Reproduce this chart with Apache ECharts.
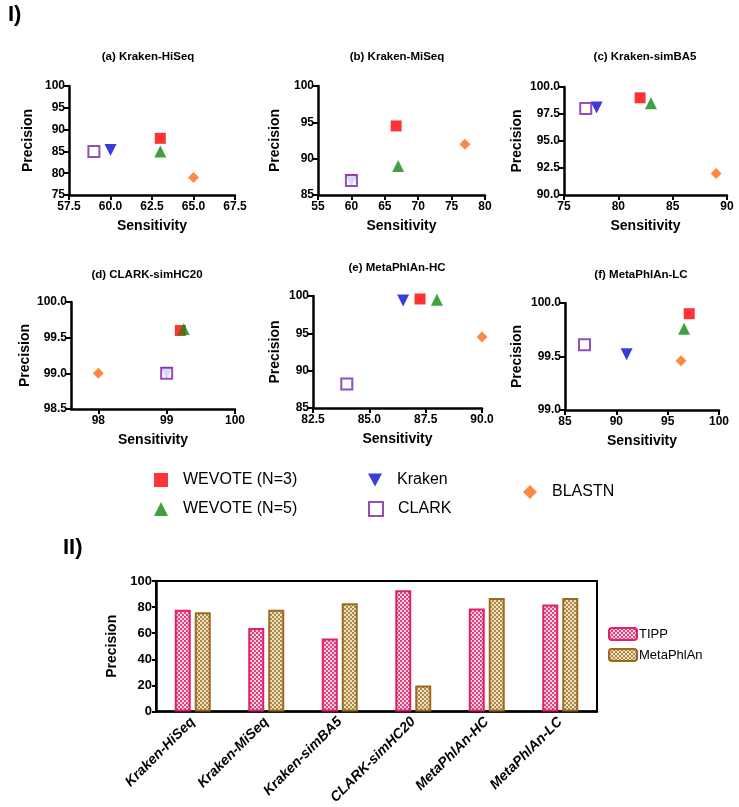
<!DOCTYPE html>
<html>
<head>
<meta charset="UTF-8" />
<title>WEVOTE precision / sensitivity</title>
<script src="https://cdn.jsdelivr.net/npm/echarts@6/dist/echarts.min.js"></script>
<style>
  body { margin: 0; background: #fff; }
  #chart { width: 739px; height: 807px; }
</style>
</head>
<body>
<div id="chart"></div>
<script>
// ---- data ----
var panelTitles = ['(a) Kraken-HiSeq', '(b) Kraken-MiSeq', '(c) Kraken-simBA5',
                   '(d) CLARK-simHC20', '(e) MetaPhlAn-HC', '(f) MetaPhlAn-LC'];
var toolNames = ['WEVOTE (N=3)', 'WEVOTE (N=5)', 'Kraken', 'CLARK', 'BLASTN'];

// one value per panel (a..f)
var wevote3Sens = [63, 66.7, 82, 99.2, 87.25, 97.1];
var wevote3Prec = [88, 94.5, 99, 99.6, 99.6, 99.9];
var wevote5Sens = [63, 67, 83, 99.25, 88, 96.6];
var wevote5Prec = [85, 89, 98.5, 99.62, 99.5, 99.76];
var krakenSens = [60, 60, 78, 99, 86.5, 91];
var krakenPrec = [85.3, 87, 98.1, 99, 99.4, 99.52];
var clarkSens = [59, 60, 77, 99, 84, 86.9];
var clarkPrec = [85, 87, 98, 99, 88.2, 99.61];
var blastnSens = [65, 77, 89, 98, 90, 96.3];
var blastnPrec = [79, 92, 92, 99, 94.5, 99.46];

// axis scales per panel
var xMin = [57.5, 55, 75, 97.6, 82.5, 85];
var xMax = [67.5, 80, 90, 100, 90, 100];
var xStep = [2.5, 5, 5, 1, 2.5, 5];
var yMin = [75, 85, 90, 98.5, 85, 99];
var yMax = [100, 100, 100, 100, 100, 100];
var yStep = [5, 5, 2.5, 0.5, 5, 0.5];
var xDecimals = [1, 0, 0, 0, 1, 0];
var yDecimals = [0, 0, 1, 1, 0, 1];
var dTicks = [98, 99, 100];

// part II bars
var barCategories = ['Kraken-HiSeq', 'Kraken-MiSeq', 'Kraken-simBA5', 'CLARK-simHC20', 'MetaPhlAn-HC', 'MetaPhlAn-LC'];
var tippValues = [78, 64, 56, 93, 79, 82];
var metaphlanValues = [76, 78, 83, 20, 87, 87];
var barTicks = [0, 20, 40, 60, 80, 100];

// ---- layout ----
var grids = [
  { left: 69, top: 86, width: 166, height: 109 },
  { left: 318, top: 86, width: 167, height: 109 },
  { left: 564, top: 87, width: 163, height: 108 },
  { left: 71, top: 302, width: 164, height: 107 },
  { left: 313, top: 296, width: 169, height: 112 },
  { left: 565, top: 303, width: 154, height: 107 }
];
var titleX = [148, 397, 645, 147, 397, 641];
var titleY = [51, 51, 51, 269, 262, 269];
var yNameGap = [34, 36, 40, 39, 31, 41];

var FONT = 'Liberation Sans, Arial, sans-serif';
var sym = {
  'WEVOTE (N=3)': { symbol: 'rect', size: 11, style: { color: '#ff0000' } },
  'WEVOTE (N=5)': { symbol: 'triangle', size: 12, style: { color: '#128a12' } },
  'Kraken': { symbol: 'triangle', size: 12, rotate: 180, style: { color: '#0a0ad0' } },
  'CLARK': { symbol: 'rect', size: 11, style: { color: '#ffffff', borderColor: '#7b22a8', borderWidth: 2 } },
  'BLASTN': { symbol: 'diamond', size: 11, style: { color: '#ff6a14' } }
};
var toolSens = [wevote3Sens, wevote5Sens, krakenSens, clarkSens, blastnSens];
var toolPrec = [wevote3Prec, wevote5Prec, krakenPrec, clarkPrec, blastnPrec];

function pattern(bg, dot) {
  var c = document.createElement('canvas');
  c.width = 4; c.height = 4;
  var g = c.getContext('2d');
  g.fillStyle = bg; g.fillRect(0, 0, 4, 4);
  g.fillStyle = dot;
  g.fillRect(0, 0, 2, 2); g.fillRect(2, 2, 2, 2);
  return { image: c, repeat: 'repeat' };
}

var axisLine = { lineStyle: { color: '#000', width: 2.5 } };
var axisTick = { inside: false, length: 5, lineStyle: { color: '#000', width: 2 } };
var labelStyle = { color: '#000', fontWeight: 'bold', fontSize: 12, fontFamily: FONT };
var nameStyle = { color: '#000', fontWeight: 'bold', fontSize: 14, fontFamily: FONT };

var option = {
  animation: false,
  backgroundColor: '#fff',
  title: [],
  grid: [],
  xAxis: [],
  yAxis: [],
  legend: [],
  series: []
};

option.title.push({ text: 'I)', left: 8, top: 4, padding: 0, textStyle: { fontSize: 22, fontWeight: 'bold', fontFamily: FONT, color: '#000' } });
option.title.push({ text: 'II)', left: 63, top: 537, padding: 0, textStyle: { fontSize: 22, fontWeight: 'bold', fontFamily: FONT, color: '#000' } });

for (var p = 0; p < 6; p++) {
  option.title.push({
    text: panelTitles[p], left: titleX[p], top: titleY[p], textAlign: 'center', padding: 0,
    textStyle: { fontSize: 11.5, fontWeight: 'bold', fontFamily: FONT, color: '#000' }
  });
  option.grid.push(grids[p]);
  (function (p) {
    var xa = {
      type: 'value', gridIndex: p, min: xMin[p], max: xMax[p], interval: xStep[p],
      name: 'Sensitivity', nameLocation: 'middle', nameGap: 24, nameTextStyle: nameStyle,
      axisLine: axisLine, axisTick: axisTick, splitLine: { show: false },
      axisLabel: Object.assign({ margin: 6, formatter: function (v) { return v.toFixed(xDecimals[p]); } }, labelStyle)
    };
    if (p === 3) {
      xa.axisLabel.customValues = dTicks;
      xa.axisTick = Object.assign({ customValues: dTicks }, axisTick);
    }
    option.xAxis.push(xa);
    option.yAxis.push({
      type: 'value', gridIndex: p, min: yMin[p], max: yMax[p], interval: yStep[p],
      name: 'Precision', nameLocation: 'middle', nameGap: yNameGap[p], nameTextStyle: nameStyle,
      axisLine: axisLine, axisTick: axisTick, splitLine: { show: false },
      axisLabel: Object.assign({ margin: 4, formatter: function (v) { return v.toFixed(yDecimals[p]); } }, labelStyle)
    });
  })(p);
  for (var t = 0; t < toolNames.length; t++) {
    var s = sym[toolNames[t]];
    option.series.push({
      name: toolNames[t], type: 'scatter', xAxisIndex: p, yAxisIndex: p,
      symbol: s.symbol, symbolSize: s.size, symbolRotate: s.rotate || 0,
      itemStyle: s.style,
      data: [[toolSens[t][p], toolPrec[t][p]]]
    });
  }
}

// bar chart (part II)
option.grid.push({ left: 156, top: 581, width: 441, height: 132, show: true, borderColor: '#000', borderWidth: 2 });
option.xAxis.push({
  type: 'category', gridIndex: 6, data: barCategories,
  axisLine: axisLine,
  axisTick: { alignWithLabel: true, length: 5, lineStyle: { color: '#000', width: 2 } },
  axisLabel: { rotate: 45, margin: 8, interval: 0, color: '#000', fontWeight: 'bold', fontStyle: 'italic', fontSize: 14, fontFamily: FONT }
});
option.yAxis.push({
  type: 'value', gridIndex: 6, min: 0, max: 100, interval: 20,
  name: 'Precision', nameLocation: 'middle', nameGap: 33, nameTextStyle: nameStyle,
  axisLine: { show: true, lineStyle: { color: '#000', width: 2.5 } },
  axisTick: { show: true, length: 4, lineStyle: { color: '#000', width: 2 } },
  splitLine: { show: false },
  axisLabel: Object.assign({ margin: 4, customValues: barTicks }, labelStyle, { fontSize: 13 })
});
option.series.push({
  name: 'TIPP', type: 'bar', xAxisIndex: 6, yAxisIndex: 6, barWidth: 16, barGap: '25%',
  itemStyle: { color: pattern('#fbd3e2', '#e2437d'), borderColor: '#e0206a', borderWidth: 2 },
  data: tippValues
});
option.series.push({
  name: 'MetaPhlAn', type: 'bar', xAxisIndex: 6, yAxisIndex: 6, barWidth: 16, barGap: '25%',
  itemStyle: { color: pattern('#efe2c4', '#ab8a4a'), borderColor: '#9c6a1c', borderWidth: 2 },
  data: metaphlanValues
});

// legends
var legText = { fontSize: 16, fontFamily: FONT, color: '#000', padding: [0, 0, 0, 10] };
var downTri = 'path://M0,0L12,0L6,11Z';
function leg(name, x, y, icon) {
  option.legend.push({
    data: [icon ? { name: name, icon: icon } : name], left: x, top: y, selectedMode: false,
    itemWidth: 14, itemHeight: 14, itemGap: 8, textStyle: legText, padding: 0
  });
}
leg('WEVOTE (N=3)', 154, 472);
leg('WEVOTE (N=5)', 154, 501);
leg('Kraken', 368, 472, downTri);
leg('CLARK', 368, 501);
leg('BLASTN', 523, 484);
option.legend.push({
  data: ['TIPP', 'MetaPhlAn'], left: 608, top: 627, orient: 'vertical', selectedMode: false,
  itemWidth: 28, itemHeight: 12, itemGap: 7, padding: 0,
  textStyle: { fontSize: 13, fontFamily: FONT, color: '#000', padding: [0, 0, 0, -3] }
});

var chart = echarts.init(document.getElementById('chart'));
chart.setOption(option);
</script>
</body>
</html>
